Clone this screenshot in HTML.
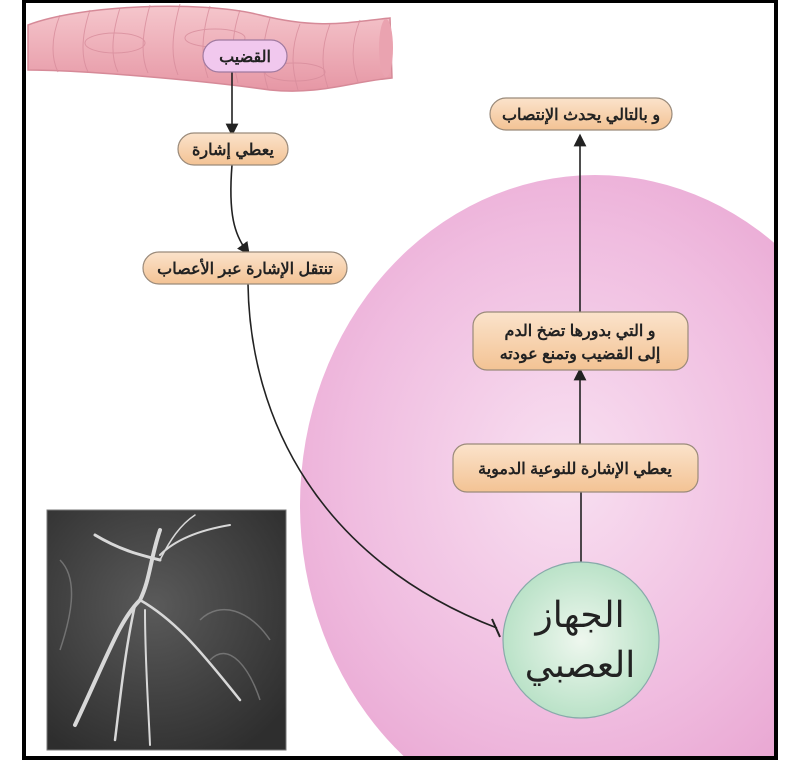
<!DOCTYPE html>
<html><head><meta charset="utf-8"><style>
html,body{margin:0;padding:0;background:#fff;width:800px;height:770px;overflow:hidden;}
svg{display:block;}
text{font-family:"Liberation Sans","Noto Sans CJK SC",sans-serif;}
</style></head><body>
<svg width="800" height="770" viewBox="0 0 800 770" xmlns="http://www.w3.org/2000/svg">
<defs>
<radialGradient id="pk" cx="0.45" cy="0.45" r="0.6">
<stop offset="0" stop-color="#f8e0f1"/><stop offset="0.6" stop-color="#f0bde0"/><stop offset="1" stop-color="#e8a3d0"/>
</radialGradient>
<radialGradient id="gr" cx="0.5" cy="0.5" r="0.55">
<stop offset="0" stop-color="#eef7ee"/><stop offset="1" stop-color="#b5e0c4"/>
</radialGradient>
<radialGradient id="ph" cx="0.45" cy="0.4" r="0.7">
<stop offset="0" stop-color="#5a5a5a"/><stop offset="1" stop-color="#2e2e2e"/>
</radialGradient>
<linearGradient id="or" x1="0" y1="0" x2="0" y2="1">
<stop offset="0" stop-color="#fbe3cb"/><stop offset="1" stop-color="#f3c394"/>
</linearGradient>
<linearGradient id="tb" x1="0" y1="0" x2="0" y2="1">
<stop offset="0" stop-color="#f5c6cc"/><stop offset="1" stop-color="#e697a5"/>
</linearGradient>
<clipPath id="fr"><rect x="26" y="3" width="748" height="753"/></clipPath>
<marker id="ar" markerWidth="8" markerHeight="8" refX="4" refY="4" orient="auto"><path d="M0,0 L8,4 L0,8 Z" fill="#222"/></marker>
</defs>
<rect x="0" y="0" width="800" height="770" fill="#fff"/>
<g clip-path="url(#fr)">
<ellipse cx="595" cy="505" rx="295" ry="330" fill="url(#pk)"/>
<path d="M28,25 C80,5 200,0 260,15 C320,30 350,22 390,18 L392,78 C350,82 320,95 270,90 C200,80 80,70 28,70 Z" fill="url(#tb)" stroke="#d68a98" stroke-width="1.5"/>
<g stroke="#d88d9c" stroke-width="1" fill="none" opacity="0.8">
<ellipse cx="115" cy="43" rx="30" ry="10"/><ellipse cx="215" cy="38" rx="30" ry="9"/><ellipse cx="295" cy="72" rx="30" ry="9"/>
<path d="M60,15 C50,40 52,60 58,72 M90,10 C80,40 82,60 88,72 M120,8 C110,40 112,60 118,72 M150,5 C140,40 142,60 148,73 M180,4 C170,40 172,60 178,75 M210,6 C200,40 202,60 208,78 M240,10 C230,40 232,60 238,83 M270,18 C260,50 262,70 268,89 M300,24 C290,50 292,70 298,90 M330,24 C320,50 322,70 328,88 M360,20 C350,45 352,65 358,82"/>
</g>
<ellipse cx="386" cy="48" rx="7" ry="29" fill="#eaa3b0"/>
</g>
<rect x="24" y="1" width="752" height="757" fill="none" stroke="#000" stroke-width="4"/>
<rect x="47" y="510" width="239" height="240" fill="url(#ph)" stroke="#777"/>
<g stroke="#d8d8d8" fill="none" stroke-linecap="round">
<path d="M75,725 C110,650 120,620 140,600 C150,580 150,560 160,530" stroke-width="4"/>
<path d="M140,600 C175,620 200,650 240,700" stroke-width="2.5"/>
<path d="M135,605 C125,650 120,700 115,740" stroke-width="2.5"/>
<path d="M145,610 C145,660 148,700 150,745" stroke-width="2"/>
<path d="M160,560 C140,555 120,550 95,535" stroke-width="3"/>
<path d="M160,555 C175,540 200,530 230,525" stroke-width="2"/>
<path d="M160,560 C170,540 180,525 195,515" stroke-width="1.5"/>
</g>
<g stroke="#888" fill="none" stroke-width="1.5" opacity="0.7">
<path d="M200,620 C220,600 250,610 270,640 M210,660 C230,640 250,670 260,700 M60,560 C80,580 70,620 60,650"/>
</g>
<g stroke="#222" stroke-width="1.6" fill="none">
<path d="M232,72 L232,130" marker-end="url(#ar)"/>
<path d="M232,165 C228,215 235,235 246,250" marker-end="url(#ar)"/>
<path d="M248,284 C250,420 320,560 497,628"/>
<path d="M492,619 L500,637" stroke-width="2"/>
<path d="M581,562 L581,492"/>
<path d="M580,444 L580,374" marker-end="url(#ar)"/>
<path d="M580,312 L580,140" marker-end="url(#ar)"/>
</g>
<g stroke="#9a8a7a" stroke-width="1.2">
<rect x="203" y="40" width="84" height="32" rx="16" fill="#f1c8ee" stroke="#a07aa0"/>
<rect x="178" y="133" width="110" height="32" rx="16" fill="url(#or)"/>
<rect x="143" y="252" width="204" height="32" rx="16" fill="url(#or)"/>
<rect x="490" y="98" width="182" height="32" rx="16" fill="url(#or)"/>
<rect x="473" y="312" width="215" height="58" rx="14" fill="url(#or)"/>
<rect x="453" y="444" width="245" height="48" rx="14" fill="url(#or)"/>
<circle cx="581" cy="640" r="78" fill="url(#gr)" stroke="#8aa"/>
</g>
<g fill="#222" font-size="16" text-anchor="middle" direction="rtl" font-weight="bold">
<text x="245" y="62">القضيب</text>
<text x="233" y="155">يعطي إشارة</text>
<text x="245" y="274">تنتقل الإشارة عبر الأعصاب</text>
<text x="581" y="120">و بالتالي يحدث الإنتصاب</text>
<text x="580" y="336">و التي بدورها تضخ الدم</text>
<text x="580" y="359">إلى القضيب  وتمنع عودته</text>
<text x="575" y="474">يعطي الإشارة للنوعية الدموية</text>
<text x="580" y="627" font-size="36" font-weight="normal">الجهاز</text>
<text x="580" y="677" font-size="36" font-weight="normal">العصبي</text>
</g>
</svg>
</body></html>
